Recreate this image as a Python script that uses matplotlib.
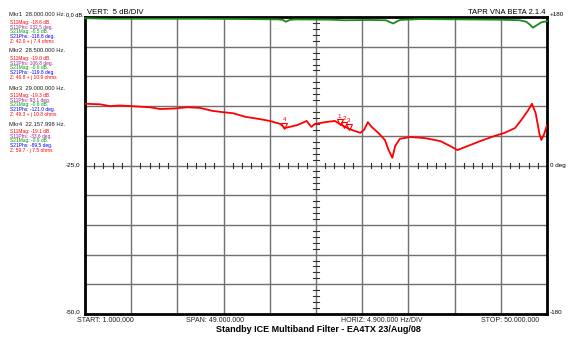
import matplotlib
matplotlib.use("Agg")
import matplotlib.pyplot as plt
import numpy as np

plt.rcParams['font.family'] = ['Liberation Sans', 'DejaVu Sans']

# S11 magnitude trace (MHz, dB)
s11_freq = [1.0, 2.6, 3.65, 4.7, 5.9, 7.9, 9.0, 10.5, 11.8, 13.2, 14.5, 15.5, 16.7, 18.0,
            19.6, 20.6, 21.7, 22.2, 22.7, 23.5, 24.1, 24.5, 25.0, 25.4, 26.5, 27.5, 28.0,
            28.6, 29.1, 30.2, 30.6, 31.0, 31.4, 32.1, 32.8, 33.2, 33.6, 33.9, 34.4, 35.5,
            37.1, 38.7, 39.7, 40.5, 41.3, 42.9, 44.5, 45.5, 46.6, 47.3, 48.0, 48.4, 48.8,
            49.2, 49.4, 49.7, 50.0]
s11_db = [-14.6, -14.7, -15.0, -14.9, -15.0, -15.2, -15.5, -15.4, -15.2, -15.3, -15.8, -16.0,
          -16.2, -16.8, -17.2, -17.5, -18.0, -18.7, -18.5, -18.2, -17.8, -17.5, -18.5, -18.0,
          -17.7, -17.5, -18.0, -18.5, -18.9, -19.5, -19.0, -17.7, -18.5, -19.5, -20.7, -22.4,
          -23.7, -21.7, -20.5, -20.2, -20.4, -20.9, -21.7, -22.4, -21.9, -20.9, -20.0, -19.5,
          -18.7, -17.3, -15.7, -14.6, -16.2, -19.7, -20.7, -19.7, -18.2]

# S21 magnitude trace (MHz, dB)
s21_freq = [1.0, 3.6, 7.9, 13.2, 18.5, 21.5, 22.0, 22.3, 22.7, 23.3, 27.0, 28.6, 31.2, 32.9,
            33.4, 33.7, 34.0, 34.4, 36.5, 40.8, 45.0, 47.1, 47.8, 48.2, 48.5, 48.9, 49.4, 50.0]
s21_db = [-0.2, -0.3, -0.3, -0.3, -0.35, -0.4, -0.5, -0.8, -0.5, -0.4, -0.45, -0.55, -0.5,
          -0.55, -0.9, -1.1, -0.8, -0.5, -0.35, -0.4, -0.45, -0.55, -0.8, -1.3, -1.8, -1.4,
          -0.9, -0.7]

# markers
mkr_names = ['1', '2', '3', '4']
mkr_freq = [28.0, 28.5, 29.0, 22.158]
mkr_text = [
    ("Mkr1  28.000.000 Hz.", ["S11Mag: -18.6 dB.", "S11Phs: 132.5 deg.", "S21Mag: -0.5 dB.",
                              "S21Phs: -118.8 deg.", "Z: 42.0 + j 7.4 ohms"]),
    ("Mkr2  28.500.000 Hz.", ["S11Mag: -19.0 dB.", "S11Phs: 106.8 deg.", "S21Mag: -0.6 dB.",
                              "S21Phs: -119.8 deg.", "Z: 46.8 + j 10.9 ohms"]),
    ("Mkr3  29.000.000 Hz.", ["S11Mag: -19.3 dB.", "S11Phs: 93.1 deg.", "S21Mag: -0.6 dB.",
                              "S21Phs: -121.0 deg.", "Z: 49.3 + j 10.8 ohms"]),
    ("Mkr4  22.157.998 Hz.", ["S11Mag: -19.1 dB.", "S11Phs: -33.6 deg.", "S21Mag: -0.9 dB.",
                              "S21Phs: -89.5 deg.", "Z: 59.7 - j 7.5 ohms"]),
]
line_colors = ['#ff0000', '#a020a0', '#00a000', '#0000ff', '#ff0000']

W, H = 580, 355
def fx(x):
    return x / W
def fy(y):
    return 1 - y / H

fig = plt.figure(figsize=(5.8, 3.55), dpi=100)
ax = fig.add_axes([fx(85), fy(314), 462 / W, 297 / H])
f0, f1 = 1.0, 50.0
ax.set_xlim(f0, f1)
ax.set_ylim(-50, 0)

# grid
step = (f1 - f0) / 10
for k in range(1, 10):
    ax.axvline(f0 + k * step, color='#707070', lw=1.0, zorder=1)
    ax.axhline(-5 * k, color='#707070', lw=1.0, zorder=1)
# center crosshair minor ticks
fc = f0 + 5 * step
for k in range(1, 50):
    xv = f0 + k * step / 5
    if k % 5:
        ax.plot([xv, xv], [-25.4, -24.6], color='#303030', lw=0.8, zorder=2)
for k in range(1, 50):
    if k % 5:
        ax.plot([fc - 0.3, fc + 0.3], [-k, -k], color='#303030', lw=0.8, zorder=2)

ax.set_xticks([])
ax.set_yticks([])
for s in ax.spines.values():
    s.set_linewidth(2)
    s.set_color('black')

ax.plot(s21_freq, s21_db, color='#1a8a1a', lw=1.3, zorder=4, clip_on=False)
ax.plot(s11_freq, s11_db, color='#ff0000', lw=1.3, zorder=4)

# markers on S11 trace
for name, f in zip(mkr_names, mkr_freq):
    v = np.interp(f, s11_freq, s11_db)
    ax.plot(f, v + 0.3, marker='v', ms=4.5, mfc='none', mec='#ff0000', mew=0.8, zorder=5)
    ax.text(f, v + 0.9, name, color='#ff0000', fontsize=4.5, ha='center', va='bottom', zorder=5)

# header / footer texts
fig.text(fx(87), fy(12), "VERT:  5 dB/DIV", fontsize=5.5, va='center', ha='left')
fig.text(fx(545), fy(12), "TAPR VNA BETA 2.1.4", fontsize=5.5, va='center', ha='right')
fig.text(fx(83), fy(15), "0,0 dB.", fontsize=4.0, va='center', ha='right')
fig.text(fx(80), fy(165), "-25,0", fontsize=4.6, va='center', ha='right')
fig.text(fx(80), fy(312), "-50,0", fontsize=4.6, va='center', ha='right')
fig.text(fx(550), fy(15), "+180", fontsize=4.5, va='center', ha='left')
fig.text(fx(550), fy(165), "0 deg", fontsize=4.5, va='center', ha='left')
fig.text(fx(550), fy(313), "-180", fontsize=4.5, va='center', ha='left')

fig.text(fx(77), fy(320), "START: 1.000.000", fontsize=5, va='center', ha='left', color='#202020')
fig.text(fx(186), fy(320), "SPAN: 49.000.000", fontsize=5, va='center', ha='left', color='#202020')
fig.text(fx(341), fy(320), "HORIZ: 4.900.000 Hz/DIV", fontsize=5, va='center', ha='left', color='#202020')
fig.text(fx(481), fy(320), "STOP: 50.000.000", fontsize=5, va='center', ha='left', color='#202020')
fig.text(fx(318), fy(329), "Standby ICE Multiband Filter - EA4TX 23/Aug/08", fontsize=6.5,
         fontweight='bold', va='center', ha='center')

# marker readouts on the left
tops = [15, 51, 88, 124]
for top, (head, lines) in zip(tops, mkr_text):
    fig.text(fx(9), fy(top), head, fontsize=4.2, va='center', ha='left', color='#202020')
    for i, (t, c) in enumerate(zip(lines, line_colors)):
        fig.text(fx(10), fy(top + 7.5 + i * 4.7), t, fontsize=3.5, va='center', ha='left', color=c)

fig.savefig("out.png", dpi=100)
